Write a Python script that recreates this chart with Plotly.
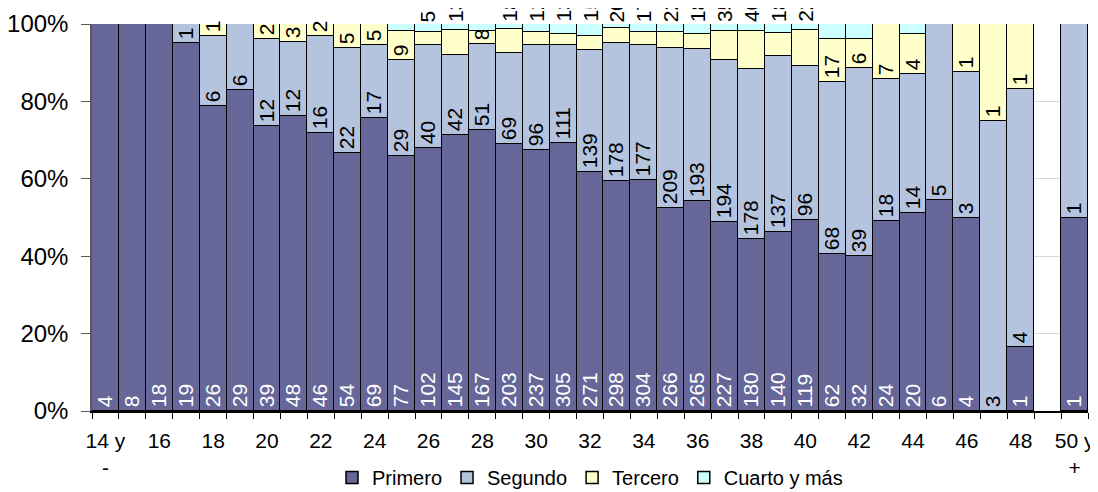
import plotly.graph_objects as go

# ---------------- data ----------------
categories = ["14 y -"] + [str(a) for a in range(15, 50)] + ["50 y +"]

primero = [4, 8, 18, 19, 26, 29, 39, 48, 46, 54, 69, 77, 102, 145, 167, 203, 237, 305,
           271, 298, 304, 266, 265, 227, 180, 140, 119, 62, 32, 24, 20, 6, 4, 0, 1, None, 1]
segundo = [0, 0, 0, 1, 6, 6, 12, 12, 16, 22, 17, 29, 40, 42, 51, 69, 96, 111,
           139, 178, 177, 209, 193, 194, 178, 137, 96, 68, 39, 18, 14, 5, 3, 3, 4, None, 1]
tercero = [0, 0, 0, 0, 1, 0, 2, 3, 2, 5, 5, 9, 5, 13, 8, 18, 12, 13,
           15, 20, 17, 22, 18, 35, 40, 18, 22, 17, 6, 7, 4, 0, 1, 1, 1, None, 0]
cuarto = [0, 0, 0, 0, 0, 0, 0, 0, 0, 0, 0, 2, 3, 3, 4, 4, 7, 11,
          14, 5, 11, 10, 13, 8, 7, 7, 4, 6, 3, 0, 1, 0, 0, 0, 0, None, 0]

series_names = ["Primero", "Segundo", "Tercero", "Cuarto y más"]
tick_labels = ["14 y<br>-" if c == "14 y -" else ("50 y<br>+" if c == "50 y +" else
               (c if int(c) % 2 == 0 else "")) for c in categories]

# categories whose "Tercero" label sits above the bar top
top_label_cats = ["26", "27"] + [str(a) for a in range(29, 41)]

# ---------------- styling ----------------
colors = ["#666699", "#b4c4df", "#ffffcc", "#ccffff"]
FONT = "Liberation Sans, Arial, sans-serif"
FS = 21


def lab(vals):
    return [str(v) if (v is not None and v > 0) else "" for v in vals]


# totals used only for percent normalisation of the stacked bars
totals = [sum(v or 0 for v in grp) for grp in zip(primero, segundo, tercero, cuarto)]


def pct(vals):
    # share of each segment; zero-size segments are not drawn
    return [(v / t * 100) if (v is not None and v > 0 and t > 0) else None
            for v, t in zip(vals, totals)]


prim_text = lab(primero)
seg_text = lab(segundo)
ter_text = [("" if c in top_label_cats else t) for c, t in zip(categories, lab(tercero))]
cua_text = ["" for _ in cuarto]

fig = go.Figure()
for name, vals, txt, col, tcol in [
    (series_names[0], primero, prim_text, colors[0], "white"),
    (series_names[1], segundo, seg_text, colors[1], "black"),
    (series_names[2], tercero, ter_text, colors[2], "black"),
    (series_names[3], cuarto, cua_text, colors[3], "black"),
]:
    fig.add_trace(go.Bar(
        name=name, x=categories, y=pct(vals), text=txt,
        textposition="inside", insidetextanchor="start", textangle=-90,
        textfont=dict(family=FONT, size=FS, color=tcol),
        marker=dict(color=col, line=dict(color="black", width=1.5)),
        cliponaxis=False, hoverinfo="skip",
    ))

# Tercero labels drawn above the bar tops (category index used as x position)
for i, (c, t) in enumerate(zip(categories, tercero)):
    if c in top_label_cats:
        fig.add_annotation(x=i, y=100, xref="x", yref="y", text=str(t),
                           textangle=-90, showarrow=False, yanchor="bottom",
                           yshift=0, font=dict(family=FONT, size=FS, color="black"))

# the page body adds an 8px offset, so the figure is 8px smaller on each side
fig.update_layout(
    barmode="stack", bargap=0.0,
    width=1090, height=484,
    margin=dict(l=84, r=10, t=16, b=81, autoexpand=False),
    paper_bgcolor="white", plot_bgcolor="white",
    font=dict(family=FONT, size=FS, color="black"),
    uniformtext=dict(minsize=FS, mode="show"),
    legend=dict(orientation="h", x=0.5, xanchor="center",
                yref="container", y=0.03, yanchor="middle",
                font=dict(family=FONT, size=20), itemwidth=30, traceorder="normal"),
    showlegend=True,
)
fig.update_xaxes(
    type="category", categoryorder="array", categoryarray=categories,
    range=[-0.5, len(categories) - 0.5],
    tickmode="array", tickvals=categories, ticktext=tick_labels,
    tickson="boundaries", ticks="outside", ticklen=6, tickcolor="black",
    showline=True, linecolor="black", linewidth=1.5, ticklabelstandoff=10,
    tickfont=dict(family=FONT, size=21), tickangle=0, showgrid=False,
)
fig.update_yaxes(
    range=[0, 100], dtick=20, ticksuffix="%", ticks="outside", ticklen=9,
    tickcolor="#595959", showline=True, linecolor="#595959", linewidth=1.5,
    showgrid=True, gridcolor="#d9d9d9", gridwidth=1, ticklabelstandoff=8,
    tickfont=dict(family=FONT, size=24), zeroline=False,
)

fig.write_html("out.html")
